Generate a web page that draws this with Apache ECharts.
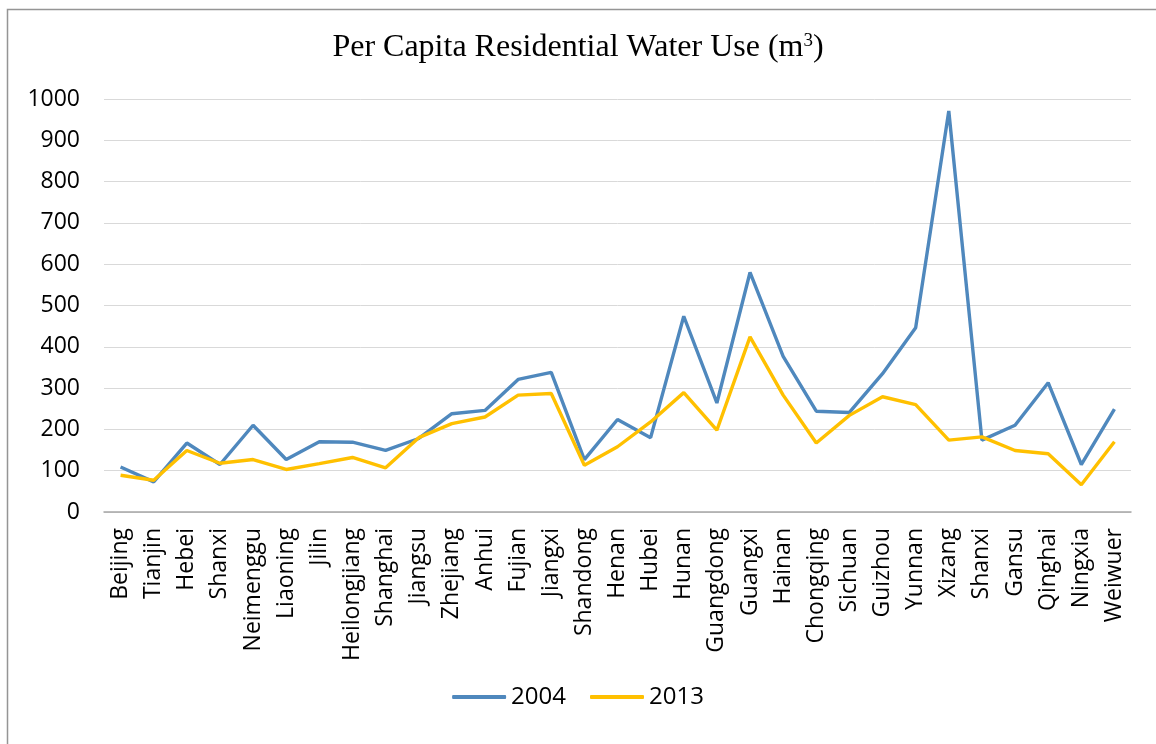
<!DOCTYPE html>
<html>
<head>
<meta charset="utf-8">
<style>
  html, body { margin: 0; padding: 0; background: #ffffff; }
  #chart { width: 1156px; height: 744px; }
</style>
<script src="https://cdn.jsdelivr.net/npm/echarts@6/dist/echarts.min.js"></script>
</head>
<body>
<div id="chart"></div>
<script>
// Provinces along the category axis
const provinces = [
  'Beijing', 'Tianjin', 'Hebei', 'Shanxi', 'Neimenggu', 'Liaoning', 'Jilin',
  'Heilongjiang', 'Shanghai', 'Jiangsu', 'Zhejiang', 'Anhui', 'Fujian', 'Jiangxi',
  'Shandong', 'Henan', 'Hubei', 'Hunan', 'Guangdong', 'Guangxi', 'Hainan',
  'Chongqing', 'Sichuan', 'Guizhou', 'Yunnan', 'Xizang', 'Shanxi', 'Gansu',
  'Qinghai', 'Ningxia', 'Weiwuer'
];

// Per capita residential water use, m³
const use2004 = [
  109, 73, 167, 115, 210, 127, 170, 169, 149, 178, 238, 246, 321, 338, 127,
  224, 180, 474, 264, 580, 377, 244, 241, 335, 446, 971, 174, 210, 313, 115, 249
];
const use2013 = [
  89, 77, 149, 118, 127, 103, 117, 132, 107, 180, 214, 230, 283, 287, 113,
  158, 218, 289, 198, 424, 283, 167, 234, 279, 260, 174, 182, 149, 141, 66, 170
];

const seriesNames = ['2004', '2013'];
const yTicks = { min: 0, max: 1000, step: 100 };

const chart = echarts.init(document.getElementById('chart'), null, { renderer: 'canvas' });

const labelFont = '"Open Sans", "Noto Sans", sans-serif';
const titleFont = '"Liberation Serif", "Times New Roman", serif';

chart.setOption({
  backgroundColor: '#ffffff',
  animation: false,
  graphic: [{
    type: 'rect',
    shape: { x: 7.5, y: 9.5, width: 1300, height: 900 },
    style: { fill: 'none', stroke: '#959595', lineWidth: 1.5 },
    silent: true,
    z: 0
  }],
  title: {
    text: 'Per Capita Residential Water Use (m{sup|3})',
    left: 'center',
    top: 27,
    textStyle: {
      fontFamily: titleFont,
      fontWeight: 'normal',
      fontSize: 32,
      color: '#000000',
      rich: {
        sup: {
          fontFamily: titleFont,
          fontSize: 19,
          color: '#000000',
          verticalAlign: 'top',
          padding: [0, 0, 12, 0]
        }
      }
    }
  },
  legend: {
    data: seriesNames,
    left: 'center',
    top: 680,
    icon: 'roundRect',
    itemWidth: 54,
    itemHeight: 4,
    itemGap: 24,
    textStyle: {
      fontFamily: labelFont,
      fontSize: 24,
      color: '#000000'
    }
  },
  grid: {
    left: 104,
    right: 25,
    top: 99,
    bottom: 232,
    containLabel: false
  },
  xAxis: {
    type: 'category',
    data: provinces,
    boundaryGap: true,
    axisLine: { lineStyle: { color: '#a6a6a6', width: 1.5 } },
    axisTick: { show: false },
    axisLabel: {
      interval: 0,
      rotate: 90,
      margin: 16,
      fontFamily: labelFont,
      fontSize: 23,
      color: '#000000'
    },
    splitLine: { show: false }
  },
  yAxis: {
    type: 'value',
    min: yTicks.min,
    max: yTicks.max,
    interval: yTicks.step,
    axisLine: { show: false },
    axisTick: { show: false },
    axisLabel: {
      margin: 24,
      fontFamily: labelFont,
      fontSize: 23,
      color: '#000000',
      formatter: function (v) { return String(v); }
    },
    splitLine: { lineStyle: { color: '#d9d9d9', width: 1 } }
  },
  series: [
    {
      name: seriesNames[0],
      type: 'line',
      data: use2004,
      showSymbol: false,
      symbol: 'none',
      lineStyle: { color: '#4f88bd', width: 3.4 },
      itemStyle: { color: '#4f88bd' },
      z: 2
    },
    {
      name: seriesNames[1],
      type: 'line',
      data: use2013,
      showSymbol: false,
      symbol: 'none',
      lineStyle: { color: '#ffc000', width: 3.4 },
      itemStyle: { color: '#ffc000' },
      z: 3
    }
  ]
});
</script>
</body>
</html>
